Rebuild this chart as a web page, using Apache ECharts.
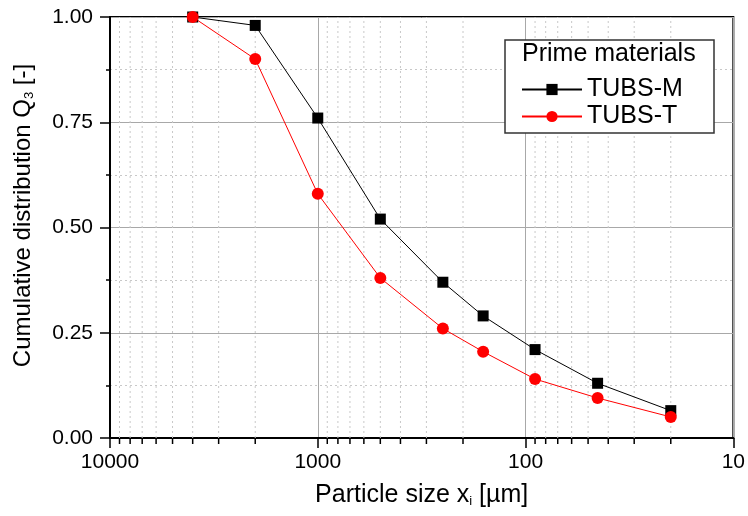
<!DOCTYPE html>
<html>
<head>
<meta charset="utf-8">
<script src="https://cdn.jsdelivr.net/npm/echarts@6/dist/echarts.min.js"></script>
<style>html,body{margin:0;padding:0;background:#fff;}#c{width:748px;height:516px;}</style>
</head>
<body>
<div id="c"></div>
<script>
const sizes = [4000, 2000, 1000, 500, 250, 160, 90, 45, 20];
const tubsM = [1.0, 0.98, 0.76, 0.52, 0.37, 0.29, 0.21, 0.13, 0.065];
const tubsT = [1.0, 0.90, 0.58, 0.38, 0.26, 0.205, 0.14, 0.095, 0.05];
const minorX = [20, 30, 40, 50, 60, 70, 80, 90, 200, 300, 400, 500, 600, 700, 800, 900, 2000, 3000, 4000, 5000, 6000, 7000, 8000, 9000];
const seriesNames = ['TUBS-M', 'TUBS-T'];
const legendTitle = 'Prime materials';

const FONT = "'Liberation Sans', Arial, sans-serif";
const chart = echarts.init(document.getElementById('c'));
chart.setOption({
  animation: false,
  backgroundColor: '#fff',
  grid: { left: 110, right: 12, top: 17, bottom: 78, show: true, borderColor: '#000', borderWidth: 2, backgroundColor: 'transparent' },
  xAxis: {
    type: 'log', logBase: 10, min: 10, max: 10000, inverse: true,
    name: 'Particle size x{s|i} [µm]', nameLocation: 'middle', nameGap: 45,
    nameTextStyle: { fontFamily: FONT, fontSize: 25, color: '#000',
      rich: { s: { fontFamily: FONT, fontSize: 13, color: '#000', verticalAlign: 'bottom', padding: [12, 0, 0, 0] } } },
    axisLine: { show: true, lineStyle: { color: '#000', width: 2 } },
    axisTick: { show: true, inside: false, length: 10, lineStyle: { color: '#000', width: 1.5 } },
    axisLabel: { fontFamily: FONT, fontSize: 21, color: '#000', margin: 14, formatter: v => String(Math.round(v)) },
    splitLine: { show: true, lineStyle: { color: '#a8a8a8', width: 1 } }
  },
  yAxis: {
    type: 'value', min: 0, max: 1, interval: 0.25,
    name: 'Cumulative distribution Q{s|3} [-]', nameLocation: 'middle', nameGap: 74,
    nameTextStyle: { fontFamily: FONT, fontSize: 24, color: '#000', padding: [0, 0, 0, 24],
      rich: { s: { fontFamily: FONT, fontSize: 13, color: '#000', verticalAlign: 'bottom', padding: [12, 0, 0, 0] } } },
    axisLine: { show: true, lineStyle: { color: '#000', width: 2 } },
    axisTick: { show: true, inside: false, length: 10, lineStyle: { color: '#000', width: 1.5 } },
    minorTick: { show: true, splitNumber: 2, length: 4, lineStyle: { color: '#000', width: 1.5 } },
    axisLabel: { fontFamily: FONT, fontSize: 21, color: '#000', margin: 17, formatter: v => v.toFixed(2) },
    splitLine: { show: true, lineStyle: { color: '#a8a8a8', width: 1 } },
    minorSplitLine: { show: true, lineStyle: { color: '#c8c8c8', width: 1, type: [2, 3] } }
  },
  legend: {
    data: seriesNames, orient: 'vertical', left: 521, top: 77, z: 10, padding: 0,
    itemWidth: 60, itemHeight: 14, itemGap: 2,
    textStyle: { fontFamily: FONT, fontSize: 25, color: '#000' }
  },
  graphic: [
    { type: 'rect', z: 5, shape: { x: 505, y: 40, width: 209, height: 93 }, style: { fill: '#fff', stroke: '#333', lineWidth: 1.5 } },
    { type: 'text', z: 6, left: 522, top: 42, style: { text: legendTitle, font: "25px 'Liberation Sans', Arial, sans-serif", fill: '#000' } }
  ],
  series: [
    {
      type: 'custom', name: 'minor', clip: false, silent: true, z: 1,
      data: minorX.map(v => [v, 0]),
      renderItem: (params, api) => {
        const x = api.value(0);
        const b = api.coord([x, 0]);
        const t = api.coord([x, 1]);
        return { type: 'group', children: [
          { type: 'line', shape: { x1: b[0], y1: b[1], x2: t[0], y2: t[1] }, style: { stroke: '#c8c8c8', lineWidth: 1, lineDash: [2, 3] } },
          { type: 'line', shape: { x1: b[0], y1: b[1], x2: b[0], y2: b[1] + 6 }, style: { stroke: '#000', lineWidth: 1.5 } }
        ] };
      }
    },
    {
      name: seriesNames[0], type: 'line', z: 4,
      data: sizes.map((s, i) => [s, tubsM[i]]),
      symbol: 'rect', symbolSize: 11,
      itemStyle: { color: '#000' }, lineStyle: { color: '#000', width: 1 }
    },
    {
      name: seriesNames[1], type: 'line', z: 4,
      data: sizes.map((s, i) => [s, tubsT[i]]),
      symbol: 'circle', symbolSize: 12,
      itemStyle: { color: '#ff0000' }, lineStyle: { color: '#ff0000', width: 1 }
    }
  ]
});
</script>
</body>
</html>
